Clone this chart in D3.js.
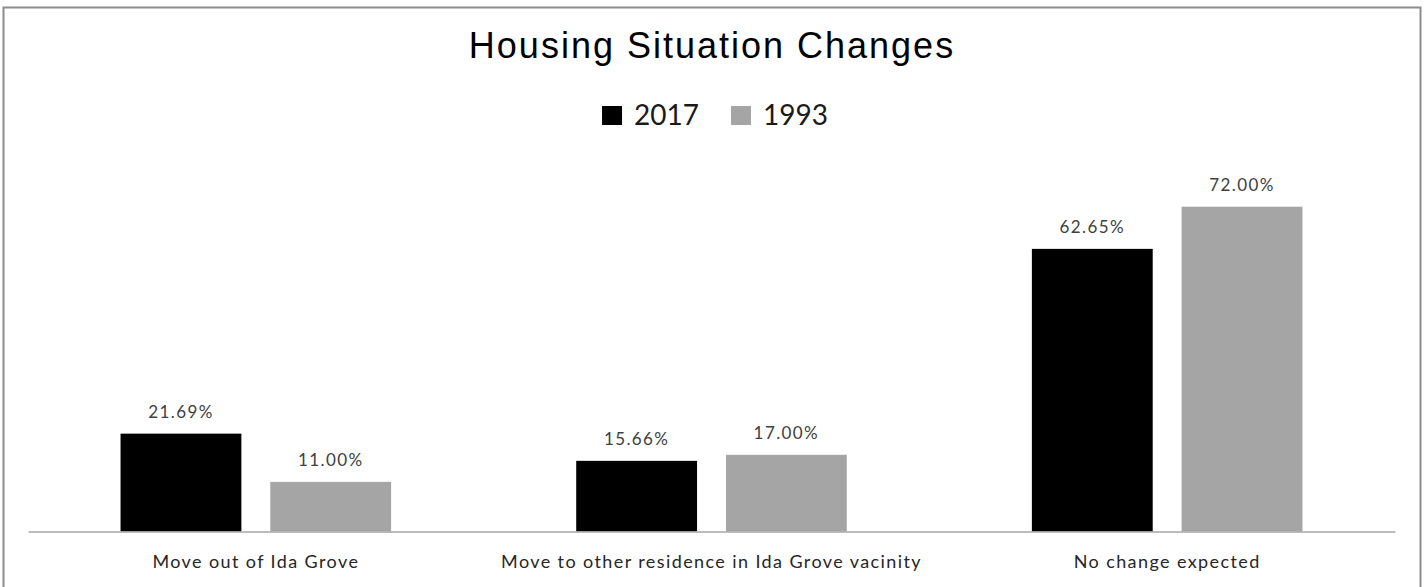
<!DOCTYPE html>
<html>
<head>
<meta charset="utf-8">
<script src="https://cdn.jsdelivr.net/npm/d3@7"></script>
<style>
    body { margin: 0; background: #fff; }
    svg { display: block; }
</style>
</head>
<body>
<div id="chart"></div>
<script>
var categories = ['Move out of Ida Grove', 'Move to other residence in Ida Grove vacinity', 'No change expected'];
var series = ['2017', '1993'];
var values2017 = [21.69, 15.66, 62.65];
var values1993 = [11.00, 17.00, 72.00];
var seriesColors = ['#000000', '#a5a5a5'];

var width = 1425,
    height = 587;

var svg = d3.select('#chart')
    .append('svg')
    .attr('width', width)
    .attr('height', height);

// chart frame
svg.append('rect')
    .attr('x', 3.5)
    .attr('y', 7.5)
    .attr('width', 1417)
    .attr('height', 600)
    .attr('fill', '#fff')
    .attr('stroke', '#8c8c8c')
    .attr('stroke-width', 2);

var x0 = d3.scaleBand()
    .domain(categories)
    .range([28, 1395]);

var x1 = d3.scaleBand()
    .domain(series)
    .range([0, x0.bandwidth()])
    .paddingInner(0.193)
    .paddingOuter(0.618);

var y = d3.scaleLinear()
    .domain([0, 80])
    .range([531.5, 170.6]);

var rows = categories.map(function(c, i) {
    return { category: c, values: [values2017[i], values1993[i]] };
});

var groups = svg.selectAll('.cat')
    .data(rows)
    .enter()
    .append('g')
    .attr('class', 'cat')
    .attr('transform', function(d) { return 'translate(' + x0(d.category) + ',0)'; });

var bars = groups.selectAll('.bar')
    .data(function(d) {
        return d.values.map(function(v, j) { return { key: series[j], value: v, color: seriesColors[j] }; });
    })
    .enter();

bars.append('rect')
    .attr('class', 'bar')
    .attr('x', function(d) { return x1(d.key); })
    .attr('width', x1.bandwidth())
    .attr('y', function(d) { return y(d.value); })
    .attr('height', function(d) { return y(0) - y(d.value); })
    .attr('fill', function(d) { return d.color; });

bars.append('text')
    .attr('x', function(d) { return x1(d.key) + x1.bandwidth() / 2; })
    .attr('y', function(d) { return y(d.value) - 16; })
    .attr('text-anchor', 'middle')
    .style('font-family', 'Lato, "Open Sans", sans-serif')
    .style('font-size', '17px')
    .style('letter-spacing', '1.4px')
    .attr('fill', '#404040')
    .text(function(d) { return d.value.toFixed(2) + '%'; });

// category axis
var axis = svg.append('g')
    .attr('transform', 'translate(0,' + y(0) + ')')
    .call(d3.axisBottom(x0).tickSize(0).tickPadding(24));

axis.select('.domain')
    .attr('stroke', '#a6a6a6')
    .attr('stroke-width', 1.5);

axis.selectAll('text')
    .style('font-family', 'Lato, "Open Sans", sans-serif')
    .style('font-size', '18px')
    .style('letter-spacing', '1.4px')
    .attr('fill', '#262626');

// title
svg.append('text')
    .attr('x', 712)
    .attr('y', 58)
    .attr('text-anchor', 'middle')
    .style('font-family', '"Liberation Sans", Arial, sans-serif')
    .style('font-size', '36px')
    .style('letter-spacing', '2px')
    .attr('fill', '#000')
    .text('Housing Situation Changes');

// legend
var legend = svg.append('g');
var lx = 0;
series.forEach(function(s, i) {
    var item = legend.append('g').attr('transform', 'translate(' + lx + ',0)');
    item.append('rect')
        .attr('x', 0)
        .attr('y', 106)
        .attr('width', 20)
        .attr('height', 19)
        .attr('fill', seriesColors[i]);
    var t = item.append('text')
        .attr('x', 32)
        .attr('y', 125)
        .style('font-family', 'Lato, "Open Sans", sans-serif')
        .style('font-size', '28px')
        .attr('fill', '#1a1a1a')
        .text(s);
    lx += 32 + t.node().getComputedTextLength() + 32;
});
var legendWidth = lx - 32;
legend.attr('transform', 'translate(' + (715 - legendWidth / 2) + ',0)');
</script>
</body>
</html>
